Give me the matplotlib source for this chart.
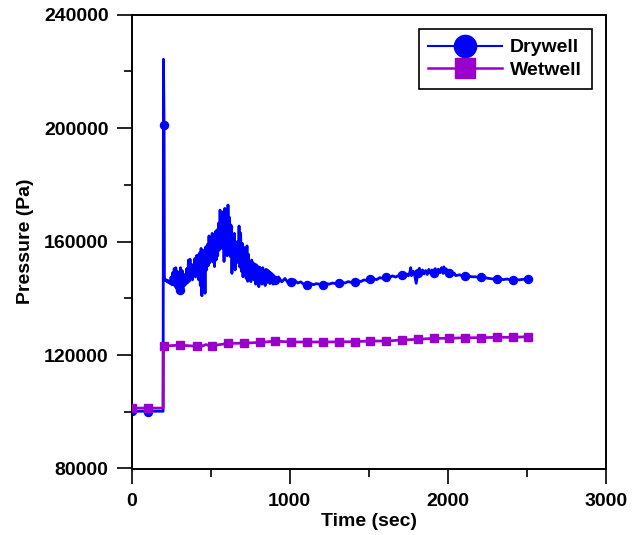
import matplotlib
matplotlib.use("Agg")
import matplotlib.pyplot as plt
from matplotlib.lines import Line2D

# ---------------- data ----------------
dry_t = [0, 105, 200, 202, 206, 208,
         210, 215, 220, 225, 230, 235, 240, 245, 250, 255, 260, 265, 270, 275,
         280, 285, 290, 295, 300, 305, 310, 315, 320, 325, 330, 335, 340, 345,
         350, 355, 360, 365, 370, 375, 380, 385, 390, 395, 400, 405, 410, 415,
         420, 425, 430, 435, 440, 445, 450, 455, 460, 465, 470, 475, 480, 485,
         490, 495, 500, 505, 510, 515, 520, 525, 530, 535, 540, 545, 550, 555,
         560, 565, 570, 575, 580, 585, 590, 595, 600, 605, 610, 615, 620, 625,
         630, 635, 640, 645, 650, 655, 660, 665, 670, 675, 680, 685, 690, 695,
         700, 705, 710, 715, 720, 725, 730, 735, 740, 745, 750, 755, 760, 765,
         770, 775, 780, 785, 790, 795, 800, 805, 810, 815, 820, 825, 830, 835,
         840, 845, 850, 855, 860, 865, 870, 875, 880, 885, 890, 895, 900,
         910, 930, 950, 970, 990, 1010, 1030, 1050, 1070, 1090, 1110, 1130,
         1150, 1170, 1190, 1210, 1230, 1250, 1270, 1290, 1310, 1330, 1350,
         1370, 1390, 1410, 1430, 1450, 1470, 1490, 1510, 1530, 1550, 1570,
         1590, 1610, 1630, 1650, 1670, 1690,
         1700, 1710, 1720, 1730, 1740, 1750, 1760, 1765, 1770, 1780, 1790,
         1800, 1810, 1820, 1830, 1840, 1850, 1860, 1870, 1880, 1890, 1900,
         1910, 1920, 1930, 1940, 1950, 1960, 1970, 1975, 1980, 1990, 2000,
         2010, 2020, 2030, 2040, 2050,
         2075, 2100, 2125, 2150, 2175, 2200, 2225, 2250, 2275, 2300, 2325,
         2350, 2375, 2400, 2425, 2450, 2475, 2500, 2520]
dry_p = [100200, 100200, 100200, 224300, 201000, 147500,
         146800, 146200, 146500, 145800, 146300, 145500, 146000, 145200, 147500, 144800,
         149000, 145000, 150500, 144200,
         150800, 143500, 149500, 142800, 148000, 142400, 150800, 143000, 149800, 143600,
         148500, 144500, 147500, 145000,
         150500, 145500, 153500, 146000, 153800, 147000, 152000, 146500, 151000, 148500,
         154000, 147500, 155000, 149000,
         155300, 146500, 156000, 144500, 157600, 140900, 156500, 147600, 157000, 141800,
         158200, 150000, 159000, 151500,
         162000, 152500, 161000, 153500, 162900, 152800, 162000, 151200, 163500, 153500,
         164100, 155000, 166500, 157000,
         171100, 158000, 168000, 157500, 170500, 153000, 171700, 158000, 170000, 155000,
         172900, 160000, 168500, 154700,
         165300, 148800, 162000, 150500, 162900, 150000, 158000, 152500, 160000, 153000,
         165500, 151000, 163000, 149500,
         159400, 147600, 158000, 150000, 156500, 147000, 158500, 146000, 155500, 147000,
         152900, 145900, 153500, 148000,
         152500, 146500, 152000, 145000, 151800, 146500, 151200, 144100, 151000, 146000,
         150500, 145000, 150800, 146500,
         149800, 144500, 150200, 145500, 150000, 145800, 149500, 145200, 149000, 146000,
         148600, 145000, 148000,
         145500, 147500, 145800, 147000, 145500, 145900, 146500, 145400, 145800, 144900,
         144700, 145300,
         144800, 145200, 144900, 144700, 145200, 145000, 145400, 145200, 145500, 145700,
         145400,
         145900, 145600, 145900, 146200, 145900, 146500, 146200, 146700, 146900, 146600,
         147300,
         147000, 147600, 147300, 147900, 147500, 148100,
         148200, 147500, 148800, 147700, 148600, 147900, 149200, 150800, 148000, 149600,
         148200,
         145300, 148500, 150600, 148700, 150000, 148600, 149800, 148400, 150200, 148800,
         150000,
         149000, 150500, 148900, 150300, 149000, 150800, 148800, 151100, 149000, 150400,
         148700,
         148800, 149600, 148300, 148900, 148000,
         148300, 147700, 148000, 147600, 147600, 147300, 147500, 147100, 146900, 146700,
         146900,
         146600, 146800, 146400, 146700, 146500, 146700, 146700, 146900]

dry_mark_t = [0, 105, 206, 306, 408, 510, 610, 710, 810, 910, 1010, 1110, 1210,
              1310, 1410, 1510, 1610, 1710, 1810, 1910, 2010, 2110, 2210, 2310,
              2410, 2510]
dry_mark_p = [100200, 100000, 201000, 142900, 150000, 156000, 165000, 153000,
              148000, 146500, 145900, 144700, 144700, 145500, 145900, 146700,
              147600, 148200, 148800, 149000, 148800, 147900, 147400, 146700,
              146500, 146800]

wet_t = [0, 105, 200, 201, 207, 306, 411, 430, 450, 470, 490, 510, 610, 710,
         810, 910, 1010, 1110, 1210, 1310, 1410, 1510, 1610, 1710, 1810, 1910,
         2010, 2110, 2210, 2310, 2410, 2510]
wet_p = [101300, 101300, 101300, 123200, 123200, 123500, 123100, 123600, 123200,
         123700, 123300, 123300, 124100, 124200, 124450, 124900, 124600, 124600,
         124600, 124650, 124710, 124950, 124950, 125300, 125550, 125900, 125900,
         126110, 126110, 126260, 126260, 126470]

wet_mark_t = [0, 105, 207, 306, 411, 510, 610, 710, 810, 910, 1010, 1110, 1210,
              1310, 1410, 1510, 1610, 1710, 1810, 1910, 2010, 2110, 2210, 2310,
              2410, 2510]
wet_mark_p = [101300, 101300, 123200, 123500, 123100, 123300, 124100, 124200,
              124450, 124900, 124600, 124600, 124600, 124650, 124710, 124950,
              124950, 125300, 125550, 125900, 125900, 126110, 126110, 126260,
              126260, 126470]

x_ticks = [0, 1000, 2000, 3000]
y_ticks = [80000, 120000, 160000, 200000, 240000]
series_names = ["Drywell", "Wetwell"]

# ---------------- style ----------------
plt.rcParams['font.family'] = ['Liberation Sans', 'DejaVu Sans']
plt.rcParams['font.weight'] = 'bold'

blue = '#0000FF'
purple = '#9900CC'

fig = plt.figure(figsize=(6.41, 5.35), dpi=100)
ax = fig.add_axes([131.5 / 641, 1 - 468.5 / 535, (606 - 131.5) / 641, (468.5 - 14.7) / 535])

ax.plot(dry_t, dry_p, color=blue, lw=2.0, zorder=2)
ax.plot(dry_mark_t, dry_mark_p, ls='none', marker='o', ms=5.8, color=blue, zorder=2)
ax.plot(wet_t, wet_p, color=purple, lw=2.0, zorder=3)
ax.plot(wet_mark_t, wet_mark_p, ls='none', marker='s', ms=5.2, color=purple, zorder=3)

ax.set_xlim(0, 3000)
ax.set_ylim(80000, 240000)
ax.set_xticks(x_ticks)
ax.set_yticks(y_ticks)
ax.set_xticks([500, 1500, 2500], minor=True)
ax.set_yticks([100000, 140000, 180000, 220000], minor=True)
ax.tick_params(which='major', direction='out', length=11, width=1.2, labelsize=14)
ax.tick_params(axis='x', which='major', pad=7)
ax.tick_params(axis='y', which='major', pad=5.5)
ax.tick_params(which='minor', direction='out', length=6, width=1.2)
ax.tick_params(top=False, right=False, which='both')
for s in ax.spines.values():
    s.set_linewidth(1.4)

ax.set_xlabel('Time (sec)', fontsize=14, fontweight='bold', labelpad=2)
ax.set_ylabel('Pressure (Pa)', fontsize=14, fontweight='bold', labelpad=7)

handles = [Line2D([], [], color=blue, lw=1.5, marker='o', ms=16),
           Line2D([], [], color=purple, lw=1.8, marker='s', ms=15)]
leg = ax.legend(handles, series_names, loc='upper right',
                bbox_to_anchor=(0.9695, 0.9685), borderaxespad=0,
                fancybox=False, frameon=True, edgecolor='black', framealpha=1,
                prop={'weight': 'bold', 'size': 14}, handlelength=3.8,
                handletextpad=0.4, labelspacing=0.25, borderpad=0.5)
leg.get_frame().set_linewidth(1.2)

fig.savefig('out.png', dpi=100)
